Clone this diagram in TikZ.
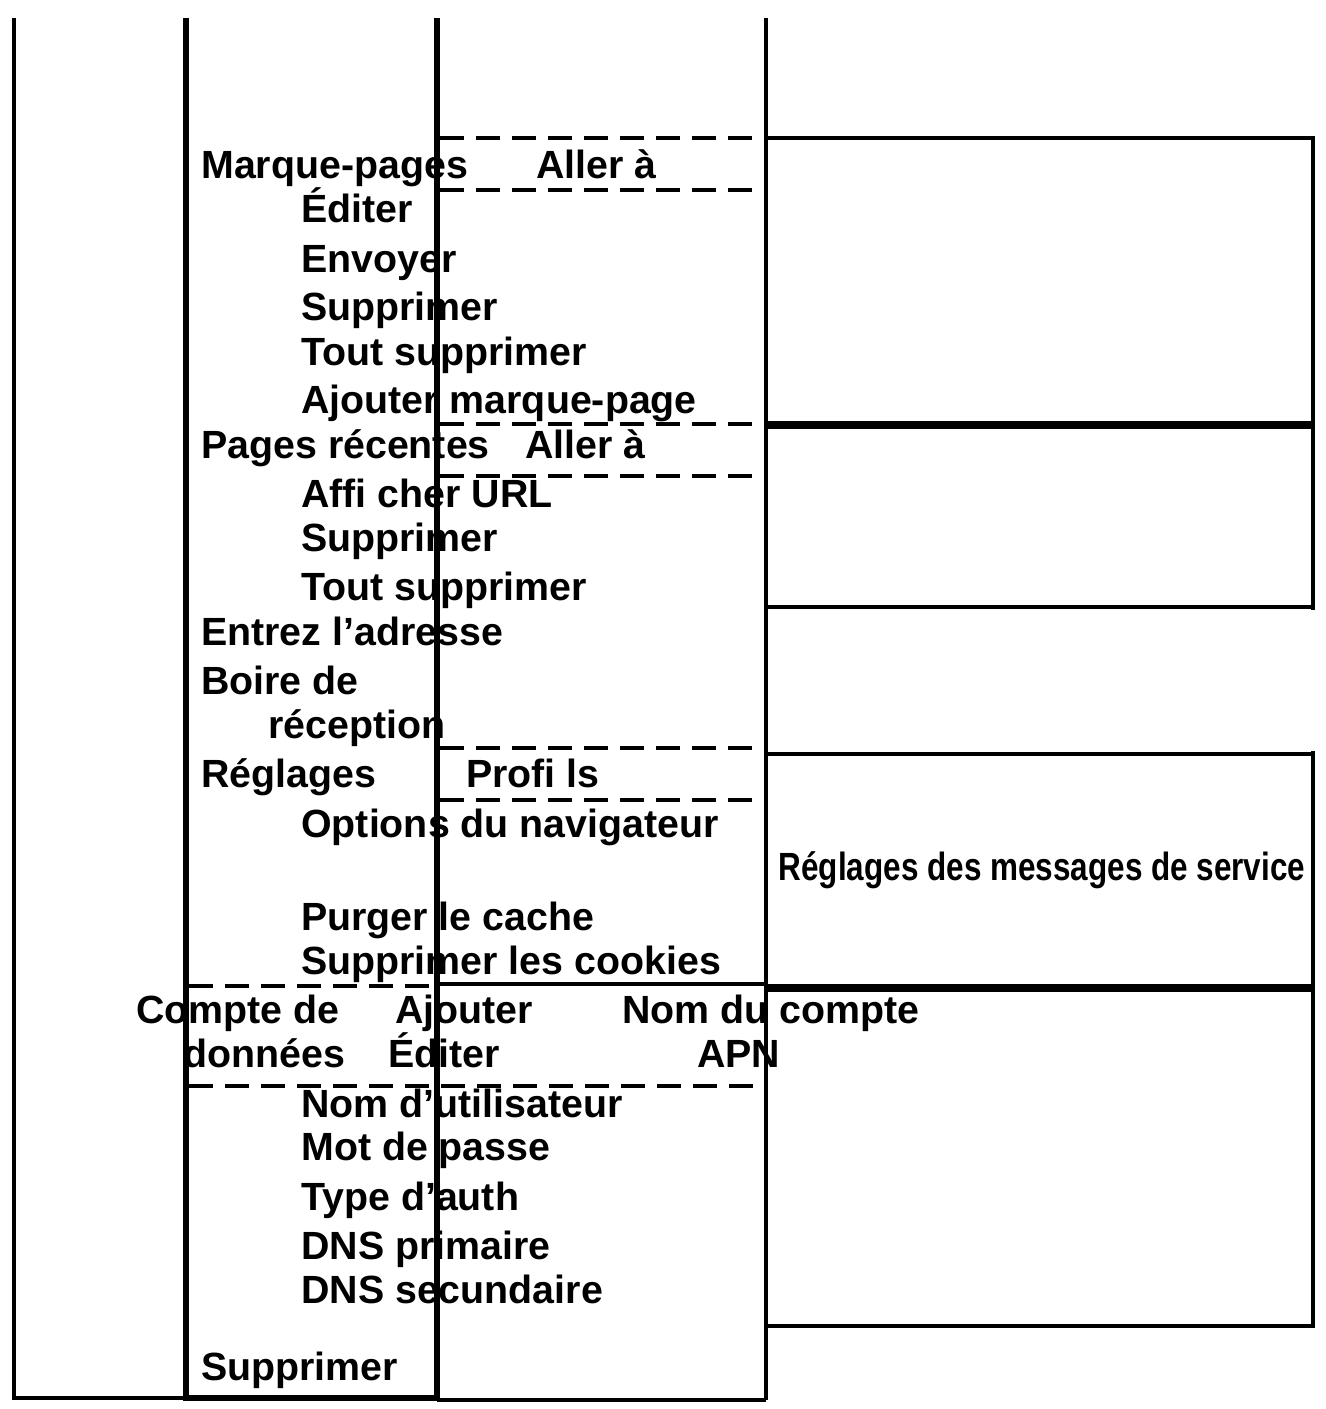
\documentclass[tikz,border=0pt]{standalone}
\usepackage{fontspec}
\setmainfont{Liberation Sans}
\begin{document}
\begin{tikzpicture}[x=0.75pt,y=-0.75pt,
  t/.style={anchor=base west,inner sep=0pt,font=\bfseries\fontsize{29.5}{30}\selectfont},
  thin line/.style={line width=3pt},
  thick line/.style={line width=4.5pt},
  dash line/.style={line width=3pt,dash pattern=on 18pt off 9pt}]
\useasboundingbox (0,0) rectangle (1326,1409);
\fill[white] (0,0) rectangle (1326,1409);
% texts
\node[t] (a1) at (201,178) {Marque-pages};
\node[t] (a2) at (536,178) {Aller à};
\node[t] (a3) at (301,222) {Éditer};
\node[t] (a4) at (301,272) {Envoyer};
\node[t] (a5) at (301,320) {Supprimer};
\node[t] (a6) at (301,365) {Tout supprimer};
\node[t] (a7) at (301,413) {Ajouter marque-page};
\node[t] (b1) at (201,458) {Pages récentes};
\node[t] (b2) at (525,458) {Aller à};
\node[t] (b3) at (301,507) {Affi cher URL};
\node[t] (b4) at (301,551) {Supprimer};
\node[t] (b5) at (301,600) {Tout supprimer};
\node[t] (c1) at (201,645) {Entrez l’adresse};
\node[t] (c2) at (201,694) {Boire de};
\node[t] (c3) at (268,738) {réception};
\node[t] (d1) at (201,787) {Réglages};
\node[t] (d2) at (466,787) {Profi ls};
\node[t] (d3) at (301,837) {Options du navigateur};
\node[t] (d4) at (301,930) {Purger le cache};
\node[t] (d5) at (301,974) {Supprimer les cookies};
\node[t] (e1) at (136,1023) {Compte de};
\node[t] (e2) at (395,1023) {Ajouter};
\node[t] (e3) at (622,1023) {Nom du compte};
\node[t] (e4) at (183,1067) {données};
\node[t] (e5) at (388,1067) {Éditer};
\node[t] (e6) at (697,1067) {APN};
\node[t] (f1) at (301,1117) {Nom d’utilisateur};
\node[t] (f2) at (301,1160) {Mot de passe};
\node[t] (f3) at (301,1210) {Type d’auth};
\node[t] (f4) at (301,1259) {DNS primaire};
\node[t] (f5) at (301,1303) {DNS secundaire};
\node[t] (g1) at (201,1380) {Supprimer};
\node[t,xscale=0.8,anchor=base] (s1) at (1042,880) {Réglages des messages de service};
% columns
\draw[thin line] (14,18) -- (14,1398) -- (186,1398);
\draw[thick line] (186,18) -- (186,1398) -- (437,1398);
\draw[thick line] (437,18) -- (437,1400);
\draw[thin line] (437,1400) -- (766,1400);
\draw[thin line] (766,18) -- (766,1400);
% right boxes
\draw[thin line] (766,138) -- (1313,138) -- (1313,1326) -- (766,1326);
\draw[line width=6pt] (766,425) -- (1313,425);
\draw[thin line] (766,607) -- (1313,607);
\draw[thin line] (766,754) -- (1313,754);
\draw[line width=6pt] (766,988) -- (1313,988);
\draw[thin line] (1313,607) -- (1313,754);
\fill[white] (1316,610) rectangle (1308,751);
% dashed
\foreach \yy in {138,190,424,476,748,800} \draw[dash line] (440,\yy) -- (766,\yy);
\draw[dash line] (189,986) -- (437,986);
\draw[thin line] (437,984) -- (766,984);
\draw[dash line] (189,1086) -- (766,1086);
\end{tikzpicture}
\end{document}
